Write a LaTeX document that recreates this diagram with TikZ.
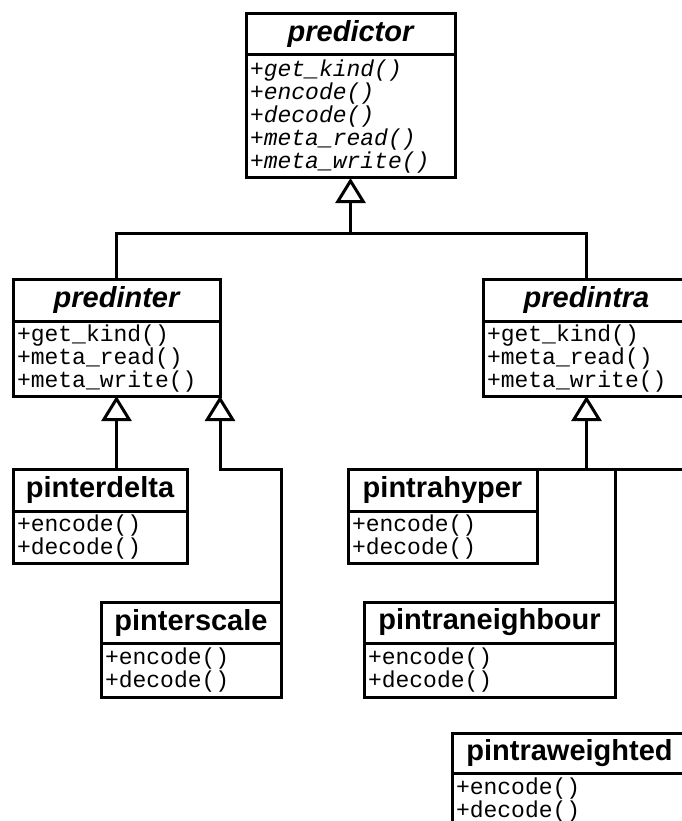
\documentclass[tikz,border=0pt]{standalone}
\usepackage{fontspec}
\setmainfont{Liberation Sans}
\setmonofont{Liberation Mono}
\usetikzlibrary{arrows.meta}

\tikzset{
  classtitle/.style={draw, line width=3pt, inner sep=0pt, outer sep=0pt, minimum height=41pt,
    anchor=north west, font=\fontsize{29}{32}\selectfont\bfseries},
  classops/.style={draw, line width=3pt, inner xsep=4pt, inner ysep=3pt, outer sep=0pt,
    anchor=north west, align=left, font=\fontsize{23}{23}\selectfont\ttfamily},
  inherit/.style={line width=3pt, -{Triangle[open,length=25pt,width=30pt]}},
  link/.style={line width=3pt}
}

\begin{document}
\begin{tikzpicture}[x=1pt,y=-1pt]
  \useasboundingbox (0,0) rectangle (681,821);

  % base class
  \node[classtitle, minimum width=209pt] (predictor) at (246,14) {\itshape predictor};
  \node[classops, text width=201pt, minimum height=123pt] (predictorops) at (predictor.south west)
    {\itshape +get\_kind()\\\itshape +encode()\\\itshape +decode()\\\itshape +meta\_read()\\\itshape +meta\_write()};

  % second level
  \node[classtitle, minimum width=207pt, minimum height=42pt] (predinter) at (13,279) {\itshape predinter};
  \node[classops, text width=199pt, minimum height=75pt] (predinterops) at (predinter.south west)
    {+get\_kind()\\+meta\_read()\\+meta\_write()};

  \node[classtitle, minimum width=207pt, minimum height=42pt] (predintra) at (483,279) {\itshape predintra};
  \node[classops, text width=199pt, minimum height=75pt] (predintraops) at (predintra.south west)
    {+get\_kind()\\+meta\_read()\\+meta\_write()};

  % inter predictors
  \node[classtitle, minimum width=174pt, minimum height=42pt] (pinterdelta) at (13,469) {pinterdelta};
  \node[classops, text width=166pt, minimum height=52pt] (pinterdeltaops) at (pinterdelta.south west)
    {+encode()\\+decode()};

  \node[classtitle, minimum width=180pt] (pinterscale) at (101,602) {pinterscale};
  \node[classops, text width=172pt, minimum height=54pt] (pinterscaleops) at (pinterscale.south west)
    {+encode()\\+decode()};

  % intra predictors
  \node[classtitle, minimum width=189pt, minimum height=42pt] (pintrahyper) at (348,469) {pintrahyper};
  \node[classops, text width=181pt, minimum height=52pt] (pintrahyperops) at (pintrahyper.south west)
    {+encode()\\+decode()};

  \node[classtitle, minimum width=251pt] (pintraneighbour) at (364,602) {pintraneighbour};
  \node[classops, text width=243pt, minimum height=54pt] (pintraneighbourops) at (pintraneighbour.south west)
    {+encode()\\+decode()};

  \node[classtitle, minimum width=235pt, minimum height=40pt] (pintraweighted) at (452,733) {pintraweighted};
  \node[classops, text width=227pt, minimum height=54pt] (pintraweightedops) at (pintraweighted.south west)
    {+encode()\\+decode()};

  % generalisations
  \coordinate (join) at (predictorops.south |- 0,233);
  \draw[inherit] (join) -- (predictorops.south);
  \draw[link] (predinter.north) |- (join) -| (predintra.north);

  \draw[inherit] (pinterdelta.north -| predinterops.south) -- (predinterops.south);
  \draw[inherit] (pinterscale.north east) |- (predinterops.south east |- pinterdelta.north) -- (predinterops.south east);

  \coordinate (intraend) at (700,469);
  \draw[inherit] (pintrahyper.north -| predintraops.south) -- (predintraops.south);
  \draw[link] (pintrahyper.north east) -- (intraend);
  \draw[link] (pintraneighbour.north east) -- (pintraneighbour.north east |- intraend);
\end{tikzpicture}
\end{document}
